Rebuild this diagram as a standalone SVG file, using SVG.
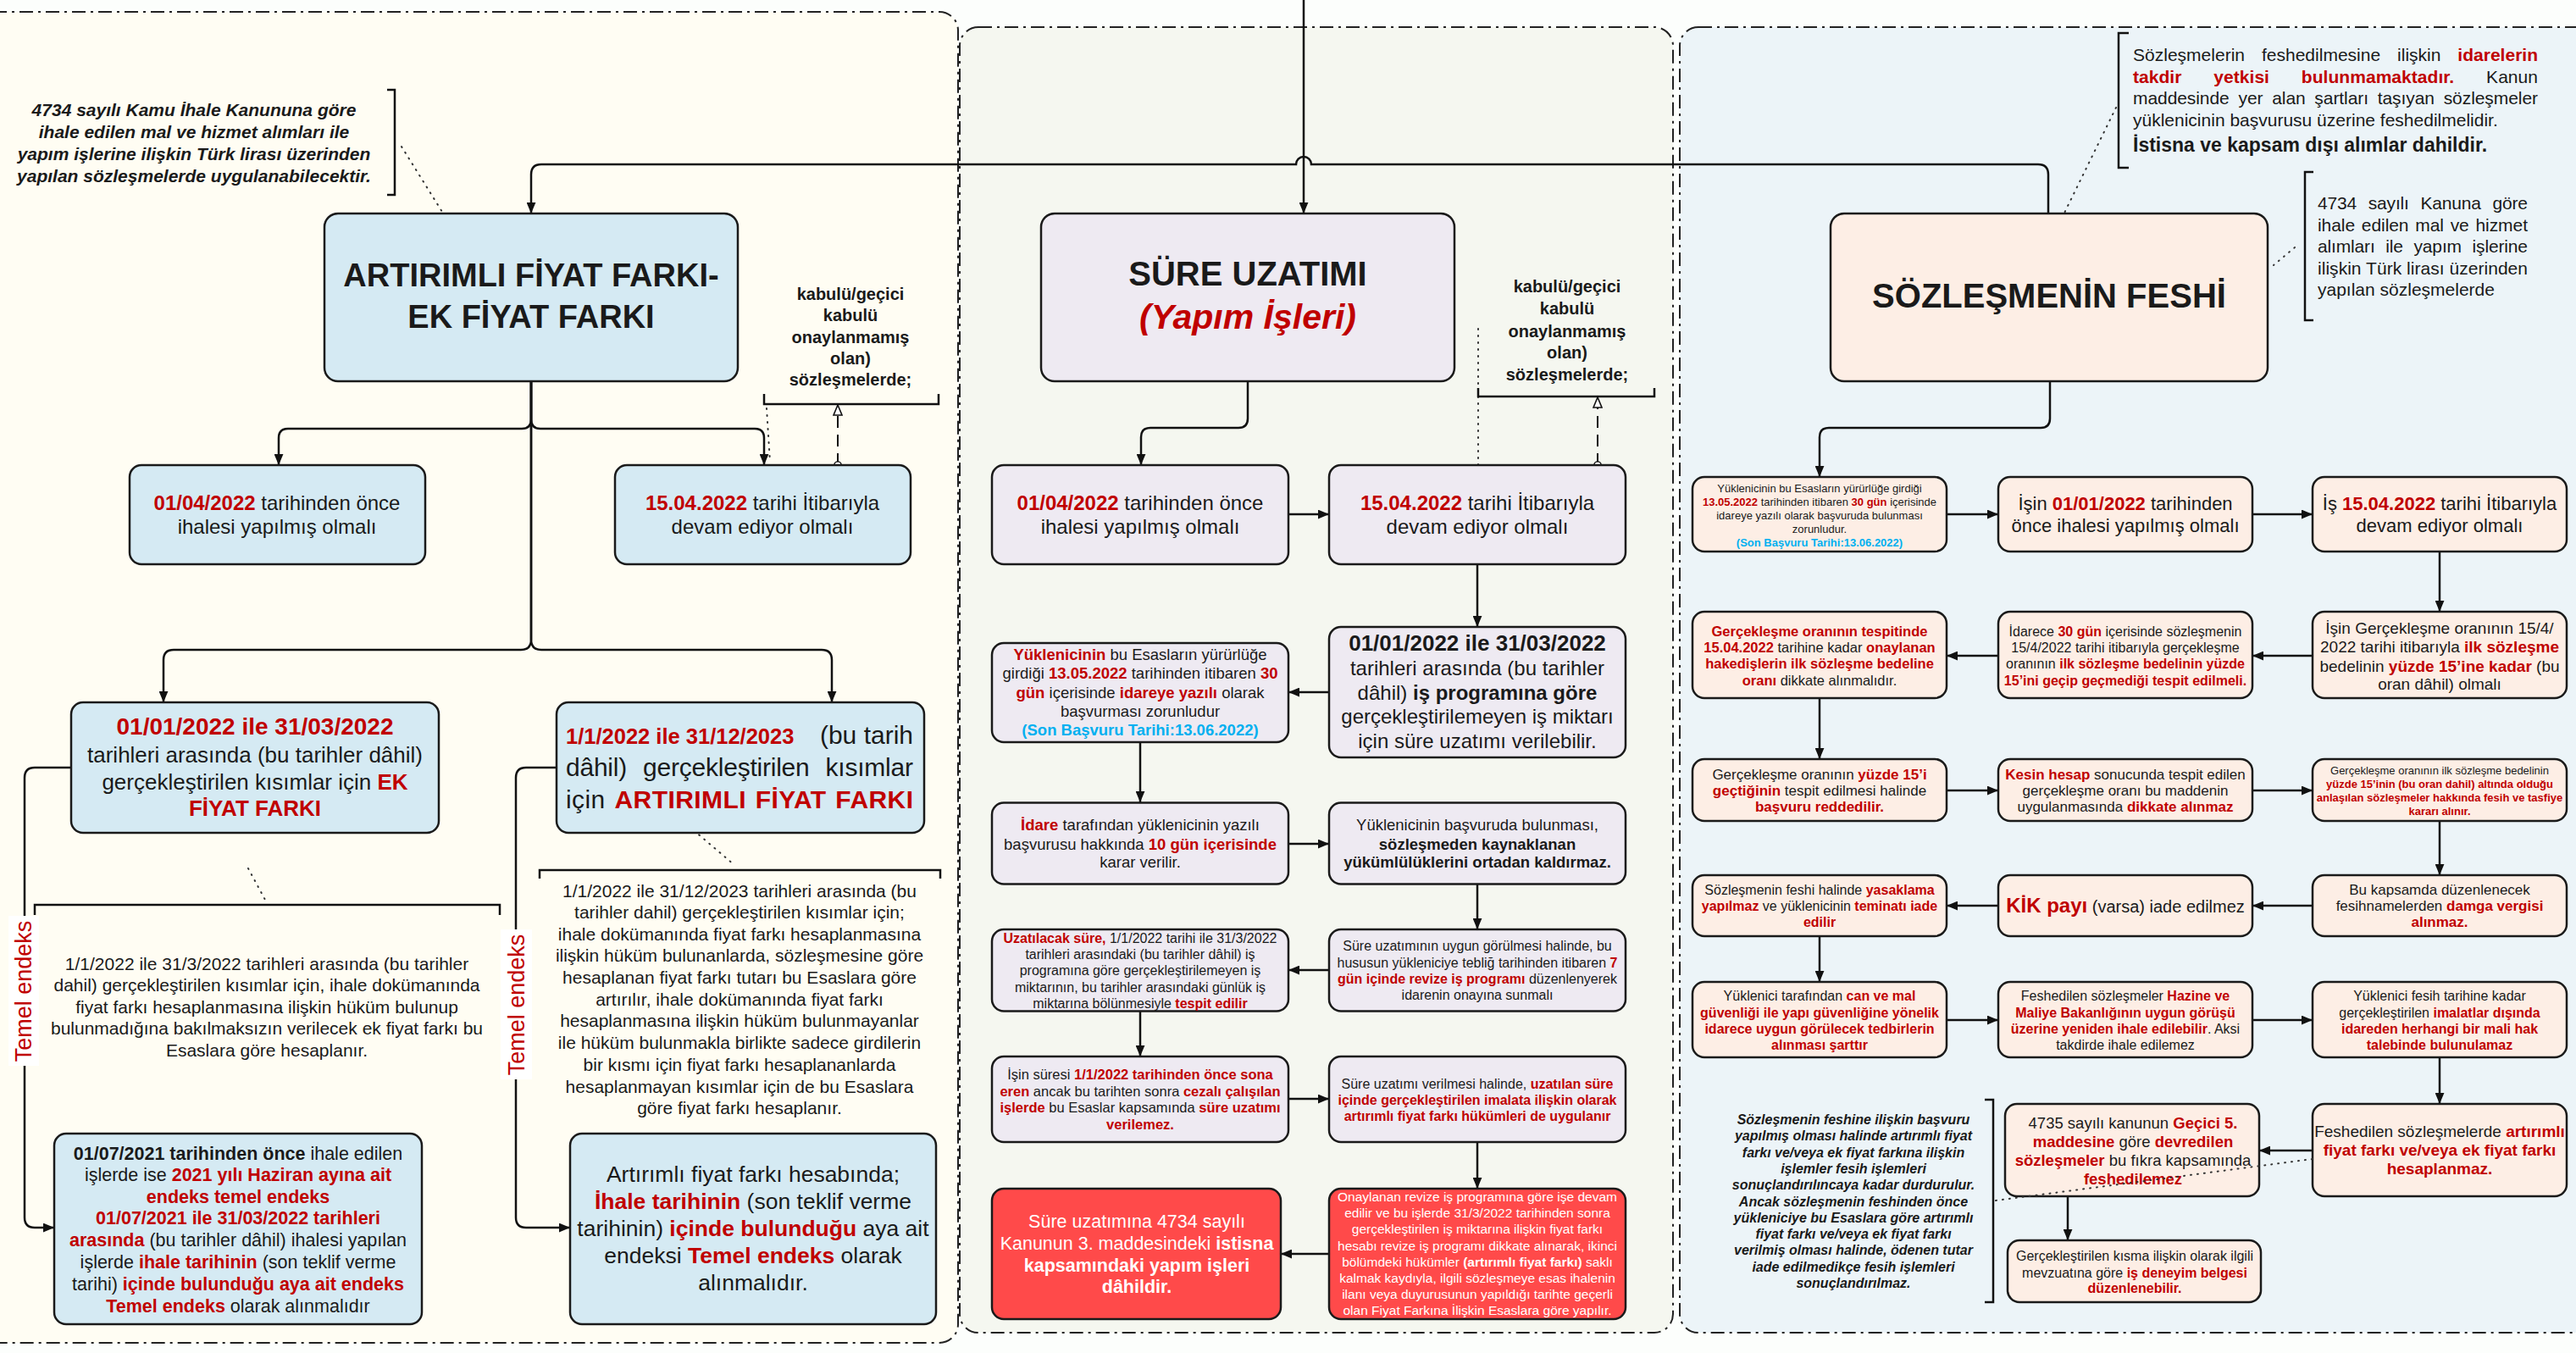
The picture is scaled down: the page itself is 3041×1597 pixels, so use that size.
<svg xmlns="http://www.w3.org/2000/svg" width="3041" height="1597" viewBox="0 0 3041 1597">
<defs>
<style>
.f{font-family:"Liberation Sans",Arial,Helvetica,sans-serif;fill:#1a1a1a}
.m{text-anchor:middle}
.e{text-anchor:end}
.r{fill:#c00000;font-weight:bold}
.b{font-weight:bold}
.bi{font-weight:bold;font-style:italic}
.cy{fill:#00b0f0;font-weight:bold}
.w{fill:#ffffff}
.box{stroke:#1a1a1a;stroke-width:2.5}
.lb{fill:#d5eaf3}.lv{fill:#eeeaf2}.pc{fill:#fdeee5}.rd{fill:#ff4a4a}
.con{fill:none;stroke:#111;stroke-width:2.5}
.dot{fill:none;stroke:#333;stroke-width:2;stroke-dasharray:1 7;stroke-linecap:round}
.brk{fill:none;stroke:#111;stroke-width:2.5}
.dsh{fill:none;stroke:#111;stroke-width:2;stroke-dasharray:14 8}
.pan{stroke:#222;stroke-width:2;stroke-dasharray:16 6 3 6}
</style>
<marker id="a" viewBox="0 0 12 10" refX="12" refY="5" markerWidth="13" markerHeight="11" orient="auto" markerUnits="userSpaceOnUse"><path d="M0,0L12,5L0,10z" fill="#111"/></marker>
<marker id="h" viewBox="0 0 14 12" refX="13" refY="6" markerWidth="14" markerHeight="12" orient="auto" markerUnits="userSpaceOnUse"><path d="M1,1L13,6L1,11z" fill="#fff" stroke="#111" stroke-width="1.6"/></marker>
<marker id="o" viewBox="0 0 12 12" refX="6" refY="6" markerWidth="11" markerHeight="11" markerUnits="userSpaceOnUse"><circle cx="6" cy="6" r="4.5" fill="#fff" stroke="#111" stroke-width="1.6"/></marker>
</defs>
<rect width="3041" height="1597" fill="#fcfefc"/>
<g id="panels">
<rect class="pan" x="-30" y="14" width="1161" height="1571" rx="22" fill="#fffdf3"/>
<rect class="pan" x="1133" y="32" width="842" height="1541" rx="22" fill="#f5f7f0"/>
<rect class="pan" x="1983" y="32" width="1090" height="1541" rx="22" fill="#ecf4f8"/>
</g>

<g id="connectors">
<path class="con" d="M2418,252L2418,206Q2418,194 2406,194L1548,194A9,9 0 0 0 1530,194L639,194Q627,194 627,206L627,252" marker-end="url(#a)"/>
<path class="con" d="M1539,0L1539,252" marker-end="url(#a)"/>
<path class="con" d="M627,450L627,495Q627,506 616,506L340,506Q329,506 329,517L329,549" marker-end="url(#a)"/>
<path class="con" d="M627,450L627,495Q627,506 638,506L891,506Q902,506 902,517L902,549" marker-end="url(#a)"/>
<path class="con" d="M627,450L627,755Q627,767 615,767L205,767Q193,767 193,779L193,829" marker-end="url(#a)"/>
<path class="con" d="M627,450L627,755Q627,767 639,767L970,767Q982,767 982,779L982,829" marker-end="url(#a)"/>
<path class="con" d="M84,906L41,906Q29,906 29,918L29,1437Q29,1449 41,1449L64,1449" marker-end="url(#a)"/>
<path class="con" d="M657,906L621,906Q609,906 609,918L609,1437Q609,1449 621,1449L673,1449" marker-end="url(#a)"/>
<path class="dsh" d="M989,549L989,478" marker-start="url(#o)" marker-end="url(#h)"/>
<path class="dsh" d="M1886,549L1886,469" marker-start="url(#o)" marker-end="url(#h)"/>
<path class="con" d="M1473,450L1473,494Q1473,505 1462,505L1358,505Q1347,505 1347,516L1347,549" marker-end="url(#a)"/>
<path class="con" d="M1521,607L1569,607" marker-end="url(#a)"/>
<path class="con" d="M1744,666L1744,740" marker-end="url(#a)"/>
<path class="con" d="M1569,817L1521,817" marker-end="url(#a)"/>
<path class="con" d="M1346,876L1346,947" marker-end="url(#a)"/>
<path class="con" d="M1521,996L1569,996" marker-end="url(#a)"/>
<path class="con" d="M1744,1044L1744,1097" marker-end="url(#a)"/>
<path class="con" d="M1569,1145L1521,1145" marker-end="url(#a)"/>
<path class="con" d="M1346,1193L1346,1247" marker-end="url(#a)"/>
<path class="con" d="M1521,1297L1569,1297" marker-end="url(#a)"/>
<path class="con" d="M1744,1348L1744,1403" marker-end="url(#a)"/>
<path class="con" d="M1569,1480L1512,1480" marker-end="url(#a)"/>
<path class="con" d="M2420,450L2420,494Q2420,505 2409,505L2159,505Q2148,505 2148,516L2148,563" marker-end="url(#a)"/>
<path class="con" d="M2298,607L2359,607" marker-end="url(#a)"/>
<path class="con" d="M2659,607L2730,607" marker-end="url(#a)"/>
<path class="con" d="M2880,651L2880,722" marker-end="url(#a)"/>
<path class="con" d="M2730,774L2659,774" marker-end="url(#a)"/>
<path class="con" d="M2359,774L2298,774" marker-end="url(#a)"/>
<path class="con" d="M2148,824L2148,896" marker-end="url(#a)"/>
<path class="con" d="M2298,933L2359,933" marker-end="url(#a)"/>
<path class="con" d="M2659,933L2730,933" marker-end="url(#a)"/>
<path class="con" d="M2880,969L2880,1033" marker-end="url(#a)"/>
<path class="con" d="M2730,1069L2659,1069" marker-end="url(#a)"/>
<path class="con" d="M2359,1069L2298,1069" marker-end="url(#a)"/>
<path class="con" d="M2148,1105L2148,1159" marker-end="url(#a)"/>
<path class="con" d="M2298,1204L2359,1204" marker-end="url(#a)"/>
<path class="con" d="M2659,1204L2730,1204" marker-end="url(#a)"/>
<path class="con" d="M2880,1248L2880,1303" marker-end="url(#a)"/>
<path class="con" d="M2730,1358L2667,1358" marker-end="url(#a)"/>
<path class="con" d="M2441,1412L2441,1464" marker-end="url(#a)"/>
<path class="dot" d="M474,173L522,250"/>
<path class="dot" d="M905,482L909,545"/>
<path class="dot" d="M813,975L867,1021"/>
<path class="dot" d="M293,1025L313,1062"/>
<path class="dot" d="M1745,388L1745,557"/>
<path class="dot" d="M2498,127L2418,290"/>
<path class="dot" d="M2709,292L2684,313"/>
</g>

<g id="brackets">
<path class="brk" d="M457,106L466,106L466,230L457,230"/>
<path class="brk" d="M902,465L902,477L1108,477L1108,465"/>
<path class="brk" d="M41,1080L41,1068L590,1068L590,1080"/>
<path class="brk" d="M637,1037L637,1027L1110,1027L1110,1037"/>
<path class="brk" d="M1745,458L1745,468L1953,468L1953,458"/>
<path class="brk" d="M2513,39L2501,39L2501,198L2513,198"/>
<path class="brk" d="M2731,203L2721,203L2721,378L2731,378"/>
<path class="brk" d="M2343,1298L2353,1298L2353,1537L2343,1537"/>
</g>

<g id="notes">
<text class="f m bi" font-size="21"><tspan x="229" y="137">4734 sayılı Kamu İhale Kanununa göre</tspan><tspan x="229" y="163">ihale edilen mal ve hizmet alımları ile</tspan><tspan x="229" y="189">yapım işlerine ilişkin Türk lirası üzerinden</tspan><tspan x="229" y="215">yapılan sözleşmelerde uygulanabilecektir.</tspan></text>
<text class="f m b" font-size="20"><tspan x="1004" y="354">kabulü/geçici</tspan><tspan x="1004" y="379">kabulü</tspan><tspan x="1004" y="405">onaylanmamış</tspan><tspan x="1004" y="430">olan)</tspan><tspan x="1004" y="455">sözleşmelerde;</tspan></text>
<text class="f m" font-size="21"><tspan x="315" y="1145">1/1/2022 ile 31/3/2022 tarihleri arasında (bu tarihler</tspan><tspan x="315" y="1170">dahil) gerçekleştirilen kısımlar için, ihale dokümanında</tspan><tspan x="315" y="1196">fiyat farkı hesaplanmasına ilişkin hüküm bulunup</tspan><tspan x="315" y="1221">bulunmadığına bakılmaksızın verilecek ek fiyat farkı bu</tspan><tspan x="315" y="1247">Esaslara göre hesaplanır.</tspan></text>
<text class="f m" font-size="21"><tspan x="873" y="1059">1/1/2022 ile 31/12/2023 tarihleri arasında (bu</tspan><tspan x="873" y="1084">tarihler dahil) gerçekleştirilen kısımlar için;</tspan><tspan x="873" y="1110">ihale dokümanında fiyat farkı hesaplanmasına</tspan><tspan x="873" y="1135">ilişkin hüküm bulunanlarda, sözleşmesine göre</tspan><tspan x="873" y="1161">hesaplanan fiyat farkı tutarı bu Esaslara göre</tspan><tspan x="873" y="1187">artırılır, ihale dokümanında fiyat farkı</tspan><tspan x="873" y="1212">hesaplanmasına ilişkin hüküm bulunmayanlar</tspan><tspan x="873" y="1238">ile hüküm bulunmakla birlikte sadece girdilerin</tspan><tspan x="873" y="1264">bir kısmı için fiyat farkı hesaplananlarda</tspan><tspan x="873" y="1290">hesaplanmayan kısımlar için de bu Esaslara</tspan><tspan x="873" y="1315">göre fiyat farkı hesaplanır.</tspan></text>
<text class="f m b" font-size="20"><tspan x="1850" y="345">kabulü/geçici</tspan><tspan x="1850" y="371">kabulü</tspan><tspan x="1850" y="398">onaylanmamış</tspan><tspan x="1850" y="423">olan)</tspan><tspan x="1850" y="449">sözleşmelerde;</tspan></text>
<text class="f" font-size="21" x="2518" y="72" word-spacing="14" textLength="478" lengthAdjust="spacing">Sözleşmelerin feshedilmesine ilişkin <tspan class="r">idarelerin</tspan></text>
<text class="f" font-size="21" x="2518" y="98" word-spacing="32" textLength="478" lengthAdjust="spacing"><tspan class="r">takdir yetkisi bulunmamaktadır.</tspan> Kanun</text>
<text class="f" font-size="21" x="2518" y="123" word-spacing="5" textLength="478" lengthAdjust="spacing">maddesinde yer alan şartları taşıyan sözleşmeler</text>
<text class="f" font-size="21" x="2518" y="149">yüklenicinin başvurusu üzerine feshedilmelidir.</text>
<text class="f b" font-size="23" x="2518" y="179">İstisna ve kapsam dışı alımlar dahildir.</text>
<text class="f" font-size="21" x="2736" y="247" word-spacing="8" textLength="248" lengthAdjust="spacing">4734 sayılı Kanuna göre</text>
<text class="f" font-size="21" x="2736" y="273" word-spacing="2" textLength="248" lengthAdjust="spacing">ihale edilen mal ve hizmet</text>
<text class="f" font-size="21" x="2736" y="298" word-spacing="7" textLength="248" lengthAdjust="spacing">alımları ile yapım işlerine</text>
<text class="f" font-size="21" x="2736" y="324" textLength="248" lengthAdjust="spacing">ilişkin Türk lirası üzerinden</text>
<text class="f" font-size="21" x="2736" y="349">yapılan sözleşmelerde</text>
<text class="f m bi" font-size="16"><tspan x="2188" y="1327">Sözleşmenin feshine ilişkin başvuru</tspan><tspan x="2188" y="1346">yapılmış olması halinde artırımlı fiyat</tspan><tspan x="2188" y="1366">farkı ve/veya ek fiyat farkına ilişkin</tspan><tspan x="2188" y="1385">işlemler fesih işlemleri</tspan><tspan x="2188" y="1404">sonuçlandırılıncaya kadar durdurulur.</tspan><tspan x="2188" y="1424">Ancak sözleşmenin feshinden önce</tspan><tspan x="2188" y="1443">yükleniciye bu Esaslara göre artırımlı</tspan><tspan x="2188" y="1462">fiyat farkı ve/veya ek fiyat farkı</tspan><tspan x="2188" y="1481">verilmiş olması halinde, ödenen tutar</tspan><tspan x="2188" y="1501">iade edilmedikçe fesih işlemleri</tspan><tspan x="2188" y="1520">sonuçlandırılmaz.</tspan></text>
</g>

<g id="n-artirimli"><rect class="box lb" x="383" y="252" width="488" height="198" rx="16"/>
<text class="f m b" font-size="38"><tspan x="627" y="338">ARTIRIMLI FİYAT FARKI-</tspan><tspan x="627" y="387">EK FİYAT FARKI</tspan></text></g>
<g id="n-l1"><rect class="box lb" x="153" y="549" width="349" height="117" rx="14"/>
<text class="f m" font-size="24"><tspan x="327" y="602"><tspan class="r">01/04/2022</tspan> tarihinden önce</tspan><tspan x="327" y="630">ihalesi yapılmış olmalı</tspan></text></g>
<g id="n-l2"><rect class="box lb" x="726" y="549" width="349" height="117" rx="14"/>
<text class="f m" font-size="24"><tspan x="900" y="602"><tspan class="r">15.04.2022</tspan> tarihi İtibarıyla</tspan><tspan x="900" y="630">devam ediyor olmalı</tspan></text></g>
<g id="n-l3"><rect class="box lb" x="84" y="829" width="434" height="154" rx="14"/>
<text class="f m" font-size="26"><tspan x="301" y="867" class="r" font-size="28">01/01/2022 ile 31/03/2022</tspan><tspan x="301" y="900">tarihleri arasında (bu tarihler dâhil)</tspan><tspan x="301" y="932">gerçekleştirilen kısımlar için <tspan class="r">EK</tspan></tspan><tspan x="301" y="963" class="r">FİYAT FARKI</tspan></text></g>
<g id="n-l4"><rect class="box lb" x="657" y="829" width="434" height="154" rx="14"/>
<text class="f r" font-size="25.5" x="668" y="878">1/1/2022 ile 31/12/2023</text>
<text class="f e" font-size="30" x="1078" y="878">(bu tarih</text>
<text class="f" font-size="30" x="668" y="916" word-spacing="11" textLength="410" lengthAdjust="spacing">dâhil) gerçekleştirilen kısımlar</text>
<text class="f" font-size="30" x="668" y="954" word-spacing="2" textLength="410" lengthAdjust="spacing">için <tspan class="r">ARTIRIMLI FİYAT FARKI</tspan></text></g>
<g id="n-l5"><rect class="box lb" x="64" y="1338" width="434" height="225" rx="14"/>
<text class="f m" font-size="21.5"><tspan x="281" y="1369"><tspan class="b">01/07/2021 tarihinden önce</tspan> ihale edilen</tspan><tspan x="281" y="1394">işlerde ise <tspan class="r">2021 yılı Haziran ayına ait</tspan></tspan><tspan x="281" y="1420" class="r">endeks temel endeks</tspan><tspan x="281" y="1445" class="r">01/07/2021 ile 31/03/2022 tarihleri</tspan><tspan x="281" y="1471"><tspan class="r">arasında</tspan> (bu tarihler dâhil) ihalesi yapılan</tspan><tspan x="281" y="1497">işlerde <tspan class="r">ihale tarihinin</tspan> (son teklif verme</tspan><tspan x="281" y="1523">tarihi) <tspan class="r">içinde bulunduğu aya ait endeks</tspan></tspan><tspan x="281" y="1549"><tspan class="r">Temel endeks</tspan> olarak alınmalıdır</tspan></text></g>
<g id="n-l6"><rect class="box lb" x="673" y="1338" width="432" height="225" rx="14"/>
<text class="f m" font-size="26.5"><tspan x="889" y="1395">Artırımlı fiyat farkı hesabında;</tspan><tspan x="889" y="1427"><tspan class="r">İhale tarihinin</tspan> (son teklif verme</tspan><tspan x="889" y="1459">tarihinin) <tspan class="r">içinde bulunduğu</tspan> aya ait</tspan><tspan x="889" y="1491">endeksi <tspan class="r">Temel endeks</tspan> olarak</tspan><tspan x="889" y="1523">alınmalıdır.</tspan></text></g>

<g id="n-sure"><rect class="box lv" x="1229" y="252" width="488" height="198" rx="16"/>
<text class="f m b" font-size="40" x="1473" y="337">SÜRE UZATIMI</text>
<text class="f m bi" font-size="41" x="1473" y="388" style="fill:#c00000">(Yapım İşleri)</text></g>
<g id="n-m1"><rect class="box lv" x="1171" y="549" width="350" height="117" rx="14"/>
<text class="f m" font-size="24"><tspan x="1346" y="602"><tspan class="r">01/04/2022</tspan> tarihinden önce</tspan><tspan x="1346" y="630">ihalesi yapılmış olmalı</tspan></text></g>
<g id="n-m2"><rect class="box lv" x="1569" y="549" width="350" height="117" rx="14"/>
<text class="f m" font-size="24"><tspan x="1744" y="602"><tspan class="r">15.04.2022</tspan> tarihi İtibarıyla</tspan><tspan x="1744" y="630">devam ediyor olmalı</tspan></text></g>
<g id="n-m3"><rect class="box lv" x="1569" y="740" width="350" height="154" rx="14"/>
<text class="f m" font-size="24"><tspan x="1744" y="768" class="b" font-size="26">01/01/2022 ile 31/03/2022</tspan><tspan x="1744" y="797">tarihleri arasında (bu tarihler</tspan><tspan x="1744" y="826">dâhil) <tspan class="b">iş programına göre</tspan></tspan><tspan x="1744" y="854">gerçekleştirilemeyen iş miktarı</tspan><tspan x="1744" y="883">için süre uzatımı verilebilir.</tspan></text></g>
<g id="n-m4"><rect class="box lv" x="1171" y="759" width="350" height="117" rx="14"/>
<text class="f m" font-size="18.5"><tspan x="1346" y="779"><tspan class="r">Yüklenicinin</tspan> bu Esasların yürürlüğe</tspan><tspan x="1346" y="801">girdiği <tspan class="r">13.05.2022</tspan> tarihinden itibaren <tspan class="r">30</tspan></tspan><tspan x="1346" y="823.5"><tspan class="r">gün</tspan> içerisinde <tspan class="r">idareye yazılı</tspan> olarak</tspan><tspan x="1346" y="845.5">başvurması zorunludur</tspan><tspan x="1346" y="867.5" class="cy">(Son Başvuru Tarihi:13.06.2022)</tspan></text></g>
<g id="n-m5"><rect class="box lv" x="1171" y="947.5" width="350" height="96" rx="14"/>
<text class="f m" font-size="18.5"><tspan x="1346" y="979.5"><tspan class="r">İdare</tspan> tarafından yüklenicinin yazılı</tspan><tspan x="1346" y="1002.5">başvurusu hakkında <tspan class="r">10 gün içerisinde</tspan></tspan><tspan x="1346" y="1023.5">karar verilir.</tspan></text></g>
<g id="n-m6"><rect class="box lv" x="1569" y="947.5" width="350" height="96" rx="14"/>
<text class="f m" font-size="18.5"><tspan x="1744" y="979.5">Yüklenicinin başvuruda bulunması,</tspan><tspan x="1744" y="1002.5" class="b">sözleşmeden kaynaklanan</tspan><tspan x="1744" y="1023.5" class="b">yükümlülüklerini ortadan kaldırmaz.</tspan></text></g>
<g id="n-m7"><rect class="box lv" x="1569" y="1097" width="350" height="96.5" rx="14"/>
<text class="f m" font-size="16"><tspan x="1744" y="1121.6">Süre uzatımının uygun görülmesi halinde, bu</tspan><tspan x="1744" y="1141.6">hususun yükleniciye tebliğ tarihinden itibaren <tspan class="r">7</tspan></tspan><tspan x="1744" y="1160.6"><tspan class="r">gün içinde revize iş programı</tspan> düzenlenyerek</tspan><tspan x="1744" y="1179.6">idarenin onayına sunmalı</tspan></text></g>
<g id="n-m8"><rect class="box lv" x="1171" y="1097" width="350" height="96.5" rx="14"/>
<text class="f m" font-size="16"><tspan x="1346" y="1112.6"><tspan class="r">Uzatılacak süre,</tspan> 1/1/2022 tarihi ile 31/3/2022</tspan><tspan x="1346" y="1131.6">tarihleri arasındaki (bu tarihler dâhil) iş</tspan><tspan x="1346" y="1151">programına göre gerçekleştirilemeyen iş</tspan><tspan x="1346" y="1170.6">miktarının, bu tarihler arasındaki günlük iş</tspan><tspan x="1346" y="1189.6">miktarına bölünmesiyle <tspan class="r">tespit edilir</tspan></tspan></text></g>
<g id="n-m9"><rect class="box lv" x="1171" y="1247" width="350" height="101" rx="14"/>
<text class="f m" font-size="16.5"><tspan x="1346" y="1273.6">İşin süresi <tspan class="r">1/1/2022 tarihinden önce sona</tspan></tspan><tspan x="1346" y="1293.6"><tspan class="r">eren</tspan> ancak bu tarihten sonra <tspan class="r">cezalı çalışılan</tspan></tspan><tspan x="1346" y="1313"><tspan class="r">işlerde</tspan> bu Esaslar kapsamında <tspan class="r">süre uzatımı</tspan></tspan><tspan x="1346" y="1332.6" class="r">verilemez.</tspan></text></g>
<g id="n-m10"><rect class="box lv" x="1569" y="1247" width="350" height="101" rx="14"/>
<text class="f m" font-size="16"><tspan x="1744" y="1284.6">Süre uzatımı verilmesi halinde, <tspan class="r">uzatılan süre</tspan></tspan><tspan x="1744" y="1303.6" class="r">içinde gerçekleştirilen imalata ilişkin olarak</tspan><tspan x="1744" y="1322.6" class="r">artırımlı fiyat farkı hükümleri de uygulanır</tspan></text></g>
<g id="n-m11"><rect class="box rd" x="1569" y="1403" width="350" height="154" rx="14"/>
<text class="f m w" font-size="15.5"><tspan x="1744" y="1418.4">Onaylanan revize iş programına göre işe devam</tspan><tspan x="1744" y="1437.4">edilir ve bu işlerde 31/3/2022 tarihinden sonra</tspan><tspan x="1744" y="1456.4">gerçekleştirilen iş miktarına ilişkin fiyat farkı</tspan><tspan x="1744" y="1476.4">hesabı revize iş programı dikkate alınarak, ikinci</tspan><tspan x="1744" y="1495.4">bölümdeki hükümler <tspan class="b">(artırımlı fiyat farkı)</tspan> saklı</tspan><tspan x="1744" y="1514.4">kalmak kaydıyla, ilgili sözleşmeye esas ihalenin</tspan><tspan x="1744" y="1533.4">ilanı veya duyurusunun yapıldığı tarihte geçerli</tspan><tspan x="1744" y="1552.4">olan Fiyat Farkına İlişkin Esaslara göre yapılır.</tspan></text></g>
<g id="n-m12"><rect class="box rd" x="1171" y="1403" width="341" height="154" rx="14"/>
<text class="f m w" font-size="21.5"><tspan x="1342" y="1448.5">Süre uzatımına 4734 sayılı</tspan><tspan x="1342" y="1474.5">Kanunun 3. maddesindeki <tspan class="b">istisna</tspan></tspan><tspan x="1342" y="1500.5" class="b">kapsamındaki yapım işleri</tspan><tspan x="1342" y="1525.5" class="b">dâhildir.</tspan></text></g>

<g id="n-fesih"><rect class="box pc" x="2161" y="252" width="516" height="198" rx="16"/>
<text class="f m b" font-size="40" x="2419" y="363">SÖZLEŞMENİN FESHİ</text></g>
<g id="n-r1"><rect class="box pc" x="1998" y="563" width="300" height="88" rx="14"/>
<text class="f m" font-size="13"><tspan x="2148" y="581">Yüklenicinin bu Esasların yürürlüğe girdiği</tspan><tspan x="2148" y="597"><tspan class="r">13.05.2022</tspan> tarihinden itibaren <tspan class="r">30 gün</tspan> içerisinde</tspan><tspan x="2148" y="613">idareye yazılı olarak başvuruda bulunması</tspan><tspan x="2148" y="629">zorunludur.</tspan><tspan x="2148" y="645" class="cy">(Son Başvuru Tarihi:13.06.2022)</tspan></text></g>
<g id="n-r2"><rect class="box pc" x="2359" y="563" width="300" height="88" rx="14"/>
<text class="f m" font-size="22"><tspan x="2509" y="602">İşin <tspan class="r">01/01/2022</tspan> tarihinden</tspan><tspan x="2509" y="628">önce ihalesi yapılmış olmalı</tspan></text></g>
<g id="n-r3"><rect class="box pc" x="2730" y="563" width="300" height="88" rx="14"/>
<text class="f m" font-size="22"><tspan x="2880" y="602">İş <tspan class="r">15.04.2022</tspan> tarihi İtibarıyla</tspan><tspan x="2880" y="628">devam ediyor olmalı</tspan></text></g>
<g id="n-r6"><rect class="box pc" x="2730" y="722" width="300" height="102" rx="14"/>
<text class="f m" font-size="19"><tspan x="2880" y="748">İşin Gerçekleşme oranının 15/4/</tspan><tspan x="2880" y="770">2022 tarihi itibarıyla <tspan class="r">ilk sözleşme</tspan></tspan><tspan x="2880" y="793">bedelinin <tspan class="r">yüzde 15’ine kadar</tspan> (bu</tspan><tspan x="2880" y="814">oran dâhil) olmalı</tspan></text></g>
<g id="n-r5"><rect class="box pc" x="2359" y="722" width="300" height="102" rx="14"/>
<text class="f m" font-size="16"><tspan x="2509" y="751">İdarece <tspan class="r">30 gün</tspan> içerisinde sözleşmenin</tspan><tspan x="2509" y="770">15/4/2022 tarihi itibarıyla gerçekleşme</tspan><tspan x="2509" y="789">oranının <tspan class="r">ilk sözleşme bedelinin yüzde</tspan></tspan><tspan x="2509" y="809" class="r">15’ini geçip geçmediği tespit edilmeli.</tspan></text></g>
<g id="n-r4"><rect class="box pc" x="1998" y="722" width="300" height="102" rx="14"/>
<text class="f m" font-size="16.5"><tspan x="2148" y="751" class="r">Gerçekleşme oranının tespitinde</tspan><tspan x="2148" y="770"><tspan class="r">15.04.2022</tspan> tarihine kadar <tspan class="r">onaylanan</tspan></tspan><tspan x="2148" y="789" class="r">hakedişlerin ilk sözleşme bedeline</tspan><tspan x="2148" y="809"><tspan class="r">oranı</tspan> dikkate alınmalıdır.</tspan></text></g>
<g id="n-r7"><rect class="box pc" x="1998" y="896" width="300" height="73" rx="14"/>
<text class="f m" font-size="17"><tspan x="2148" y="920">Gerçekleşme oranının <tspan class="r">yüzde 15’i</tspan></tspan><tspan x="2148" y="939"><tspan class="r">geçtiğinin</tspan> tespit edilmesi halinde</tspan><tspan x="2148" y="958" class="r">başvuru reddedilir.</tspan></text></g>
<g id="n-r8"><rect class="box pc" x="2359" y="896" width="300" height="73" rx="14"/>
<text class="f m" font-size="17"><tspan x="2509" y="920"><tspan class="r">Kesin hesap</tspan> sonucunda tespit edilen</tspan><tspan x="2509" y="939">gerçekleşme oranı bu maddenin</tspan><tspan x="2509" y="958">uygulanmasında <tspan class="r">dikkate alınmaz</tspan></tspan></text></g>
<g id="n-r9"><rect class="box pc" x="2730" y="896" width="300" height="73" rx="14"/>
<text class="f m" font-size="13"><tspan x="2880" y="914">Gerçekleşme oranının ilk sözleşme bedelinin</tspan><tspan x="2880" y="930" class="r">yüzde 15’inin (bu oran dahil) altında olduğu</tspan><tspan x="2880" y="946" class="r">anlaşılan sözleşmeler hakkında fesih ve tasfiye</tspan><tspan x="2880" y="962" class="r">kararı alınır.</tspan></text></g>
<g id="n-r10"><rect class="box pc" x="2730" y="1033" width="300" height="72" rx="14"/>
<text class="f m" font-size="17"><tspan x="2880" y="1056">Bu kapsamda düzenlenecek</tspan><tspan x="2880" y="1075">fesihnamelerden <tspan class="r">damga vergisi</tspan></tspan><tspan x="2880" y="1094" class="r">alınmaz.</tspan></text></g>
<g id="n-r11"><rect class="box pc" x="2359" y="1033" width="300" height="72" rx="14"/>
<text class="f m" font-size="20" x="2509" y="1077"><tspan class="r" font-size="24">KİK payı</tspan> (varsa) iade edilmez</text></g>
<g id="n-r12"><rect class="box pc" x="1998" y="1033" width="300" height="72" rx="14"/>
<text class="f m" font-size="16"><tspan x="2148" y="1056">Sözleşmenin feshi halinde <tspan class="r">yasaklama</tspan></tspan><tspan x="2148" y="1075"><tspan class="r">yapılmaz</tspan> ve yüklenicinin <tspan class="r">teminatı iade</tspan></tspan><tspan x="2148" y="1094" class="r">edilir</tspan></text></g>
<g id="n-r13"><rect class="box pc" x="1998" y="1159" width="300" height="89" rx="14"/>
<text class="f m" font-size="16"><tspan x="2148" y="1181">Yüklenici tarafından <tspan class="r">can ve mal</tspan></tspan><tspan x="2148" y="1201" class="r">güvenliği ile yapı güvenliğine yönelik</tspan><tspan x="2148" y="1220" class="r">idarece uygun görülecek tedbirlerin</tspan><tspan x="2148" y="1239" class="r">alınması şarttır</tspan></text></g>
<g id="n-r14"><rect class="box pc" x="2359" y="1159" width="300" height="89" rx="14"/>
<text class="f m" font-size="16"><tspan x="2509" y="1181">Feshedilen sözleşmeler <tspan class="r">Hazine ve</tspan></tspan><tspan x="2509" y="1201" class="r">Maliye Bakanlığının uygun görüşü</tspan><tspan x="2509" y="1220"><tspan class="r">üzerine yeniden ihale edilebilir</tspan>. Aksi</tspan><tspan x="2509" y="1239">takdirde ihale edilemez</tspan></text></g>
<g id="n-r15"><rect class="box pc" x="2730" y="1159" width="300" height="89" rx="14"/>
<text class="f m" font-size="16"><tspan x="2880" y="1181">Yüklenici fesih tarihine kadar</tspan><tspan x="2880" y="1201">gerçekleştirilen <tspan class="r">imalatlar dışında</tspan></tspan><tspan x="2880" y="1220" class="r">idareden herhangi bir mali hak</tspan><tspan x="2880" y="1239" class="r">talebinde bulunulamaz</tspan></text></g>
<g id="n-r16"><rect class="box pc" x="2730" y="1303" width="300" height="109" rx="14"/>
<text class="f m" font-size="19"><tspan x="2880" y="1342">Feshedilen sözleşmelerde <tspan class="r">artırımlı</tspan></tspan><tspan x="2880" y="1364" class="r">fiyat farkı ve/veya ek fiyat farkı</tspan><tspan x="2880" y="1386" class="r">hesaplanmaz.</tspan></text></g>
<g id="n-r17"><rect class="box pc" x="2367" y="1303" width="300" height="109" rx="14"/>
<text class="f m" font-size="18.5"><tspan x="2518" y="1332">4735 sayılı kanunun <tspan class="r">Geçici 5.</tspan></tspan><tspan x="2518" y="1354"><tspan class="r">maddesine</tspan> göre <tspan class="r">devredilen</tspan></tspan><tspan x="2518" y="1376"><tspan class="r">sözleşmeler</tspan> bu fıkra kapsamında</tspan><tspan x="2518" y="1398" class="r">feshedilemez</tspan></text></g>
<g id="n-r18"><rect class="box pc" x="2370" y="1464" width="299" height="73" rx="14"/>
<text class="f m" font-size="16"><tspan x="2520" y="1488">Gerçekleştirilen kısma ilişkin olarak ilgili</tspan><tspan x="2520" y="1508">mevzuatına göre <tspan class="r">iş deneyim belgesi</tspan></tspan><tspan x="2520" y="1526" class="r">düzenlenebilir.</tspan></text></g>

<g id="overlay">
<path class="dot" d="M2356,1417L2730,1368"/>
<rect x="10" y="1081" width="36" height="177" fill="#ffffff"/>
<text class="f m" font-size="27" style="fill:#c00000" transform="translate(28,1170) rotate(-90)" x="0" y="9">Temel endeks</text>
<rect x="591" y="1097" width="37" height="177" fill="#ffffff"/>
<text class="f m" font-size="27" style="fill:#c00000" transform="translate(610,1186) rotate(-90)" x="0" y="9">Temel endeks</text>
</g>
</svg>
